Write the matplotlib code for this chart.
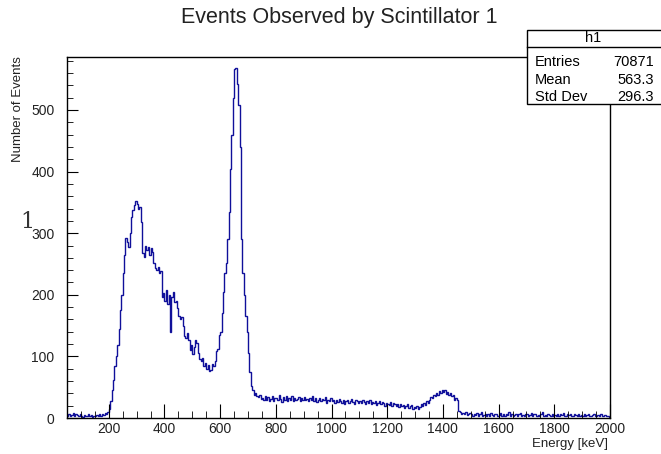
import matplotlib
matplotlib.use("Agg")
import matplotlib.pyplot as plt
import numpy as np
from matplotlib.ticker import MultipleLocator
from matplotlib.patches import Rectangle

plt.rcParams['font.family'] = ['Liberation Sans', 'DejaVu Sans']

# histogram h1: 5 keV bins from 50 keV up to 2000 keV, counts
bin_start = 50
bin_width = 5

counts_50_200 = [4, 6, 3, 5, 8, 4, 7, 5, 3, 6,
                 4, 2, 5, 3, 4, 6, 3, 5, 2, 4,
                 3, 5, 4, 6, 3, 7, 5, 8, 6, 9]
counts_200_300 = [14, 28, 45, 62, 85, 100, 118, 145, 175, 200,
                  235, 265, 292, 286, 278, 300, 327, 338, 345, 352]
counts_300_400 = [348, 340, 343, 318, 268, 262, 280, 272, 278, 265,
                  276, 270, 252, 243, 240, 245, 236, 238, 197, 203]
counts_400_500 = [190, 208, 185, 200, 140, 196, 205, 188, 190, 178,
                  165, 160, 164, 150, 133, 130, 138, 126, 110, 118]
counts_500_600 = [104, 115, 127, 122, 106, 95, 92, 98, 84, 90,
                  80, 86, 76, 78, 88, 84, 92, 108, 112, 135]
counts_600_700 = [140, 170, 205, 235, 252, 290, 335, 405, 460, 520,
                  566, 568, 542, 508, 440, 290, 235, 200, 165, 140]
counts_700_800 = [105, 75, 52, 45, 38, 40, 36, 34, 38, 31,
                  33, 29, 36, 30, 34, 28, 31, 35, 27, 32]
counts_800_1000 = [33, 29, 37, 31, 26, 34, 30, 35, 28, 32,
                   30, 36, 27, 33, 29, 31, 34, 28, 32, 30,
                   34, 29, 31, 27, 33, 30, 35, 28, 32, 26,
                   30, 33, 27, 31, 29, 34, 25, 30, 28, 32]
counts_1000_1200 = [27, 30, 24, 29, 26, 31, 28, 25, 30, 23,
                    27, 29, 24, 28, 31, 26, 23, 29, 27, 25,
                    28, 24, 30, 26, 22, 27, 25, 29, 23, 26,
                    24, 28, 21, 25, 27, 22, 26, 24, 20, 25]
counts_1200_1400 = [23, 21, 26, 19, 24, 22, 20, 23, 18, 22,
                    19, 21, 17, 20, 22, 16, 19, 21, 15, 18,
                    17, 20, 14, 18, 22, 19, 25, 21, 28, 24,
                    30, 34, 32, 38, 35, 41, 37, 44, 40, 46]
counts_1400_1500 = [42, 45, 39, 43, 37, 40, 35, 38, 30, 33,
                    30, 12, 9, 7, 8, 6, 9, 5, 7, 8]
counts_1500_2000 = [6, 4, 7, 5, 8, 3, 6, 9, 4, 5,
                    7, 3, 6, 4, 8, 5, 3, 6, 7, 4,
                    5, 8, 4, 6, 3, 7, 5, 9, 4, 6,
                    3, 5, 7, 4, 6, 8, 3, 5, 4, 7,
                    6, 3, 5, 8, 4, 6, 7, 3, 5, 4,
                    6, 9, 4, 5, 3, 7, 5, 4, 6, 3,
                    5, 4, 7, 3, 6, 5, 8, 4, 3, 6,
                    5, 7, 4, 3, 6, 5, 4, 7, 3, 5,
                    4, 6, 3, 5, 7, 4, 3, 5, 6, 4,
                    3, 5, 4, 6, 3, 4, 5, 3, 4, 2]

counts = np.array(counts_50_200 + counts_200_300 + counts_300_400 + counts_400_500
                  + counts_500_600 + counts_600_700 + counts_700_800 + counts_800_1000
                  + counts_1000_1200 + counts_1200_1400 + counts_1400_1500
                  + counts_1500_2000)
edges = bin_start + bin_width * np.arange(len(counts) + 1)

stat_labels = ['Entries', 'Mean', 'Std Dev']
stat_values = ['70871', '563.3', '296.3']

W, H = 661, 454
fig = plt.figure(figsize=(W / 100, H / 100), dpi=100)
ax = fig.add_axes([67 / W, 1 - 418 / H, (610 - 67) / W, (418 - 57) / H])

ax.stairs(counts, edges, color='#10109a', linewidth=1.0, baseline=None)
ax.set_xlim(50, 2000)
ax.set_ylim(0, 586)

ax.xaxis.set_major_locator(MultipleLocator(200))
ax.xaxis.set_minor_locator(MultipleLocator(50))
ax.yaxis.set_major_locator(MultipleLocator(100))
ax.yaxis.set_minor_locator(MultipleLocator(20))
ax.tick_params(axis='both', which='both', direction='in', top=False, right=False,
               labelsize=10, colors='black', labelcolor='#222222')
ax.tick_params(axis='x', which='major', length=10, pad=3)
ax.tick_params(axis='x', which='minor', length=5)
ax.tick_params(axis='y', which='major', length=8, pad=9)
ax.tick_params(axis='y', which='minor', length=4)
for s in ax.spines.values():
    s.set_linewidth(1.0)

fig.text(339 / W, 1 - 18 / H, 'Events Observed by Scintillator 1', ha='center', va='center',
         fontsize=15.5, color='#222222')
fig.text(18 / W, 1 - 56 / H, 'Number of Events', rotation=90, ha='center', va='top',
         fontsize=9.5, color='#222222')
fig.text(608 / W, 1 - 444 / H, 'Energy [keV]', ha='right', va='center',
         fontsize=9.5, color='#222222')
fig.text(27 / W, 1 - 222 / H, '1', ha='center', va='center', fontsize=16,
         family='DejaVu Serif', color='#333333')

# stats box (its right edge runs past the picture, as in the original)
bx0, bx1, by0, by1 = 527, 664, 30, 104
fig.patches.append(Rectangle((bx0 / W, 1 - by1 / H), (bx1 - bx0) / W, (by1 - by0) / H,
                             transform=fig.transFigure, facecolor='white',
                             edgecolor='black', linewidth=1.0, zorder=5))
fig.lines.append(plt.Line2D([bx0 / W, bx1 / W], [1 - 47 / H, 1 - 47 / H],
                            transform=fig.transFigure, color='black', linewidth=1.0, zorder=6))
fig.text(593 / W, 1 - 38.5 / H, 'h1', ha='center', va='center', fontsize=10.5, zorder=7)
for i, (lab, val) in enumerate(zip(stat_labels, stat_values)):
    y = 1 - (62 + 17.5 * i) / H
    fig.text(535 / W, y, lab, ha='left', va='center', fontsize=10.5, zorder=7)
    fig.text(654 / W, y, val, ha='right', va='center', fontsize=10.5, zorder=7)

fig.savefig('out.png', dpi=100)
